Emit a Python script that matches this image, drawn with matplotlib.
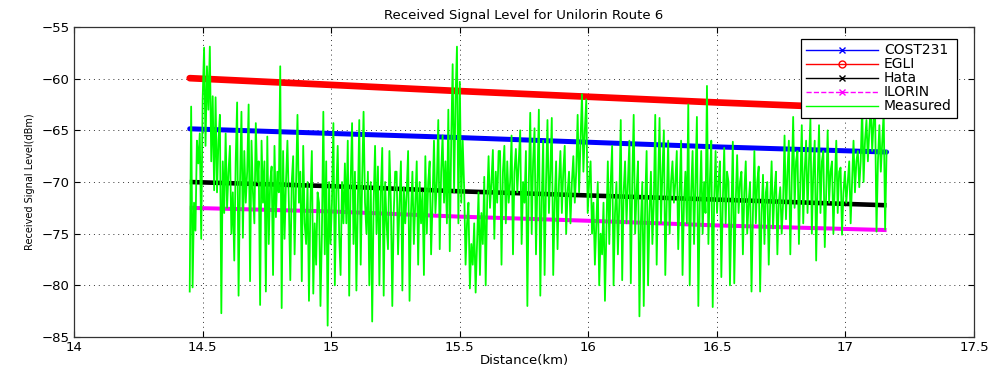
import numpy as np
import matplotlib
matplotlib.use("Agg")
import matplotlib.pyplot as plt
from matplotlib.lines import Line2D

# -----------------------------
# DATA
# -----------------------------

# model curves, read at a few distances (km)
model_km = [14.45, 15.0, 15.5, 16.0, 16.5, 17.16]
egli = [-59.95, -60.6, -61.2, -61.75, -62.3, -62.95]
cost231 = [-64.85, -65.3, -65.7, -66.15, -66.6, -67.1]
hata = [-70.0, -70.4, -70.9, -71.3, -71.7, -72.25]
ilorin = [-72.5, -72.85, -73.35, -73.75, -74.2, -74.65]

# measured level, 18 readings per 0.1 km from 14.45 km to 17.15 km
measured = [
    -80.6, -62.7, -80.2, -72.0, -74.7, -66.0, -68.2, -65.3, -75.5, -62.0, -57.0, -66.5, -58.8, -63.0, -56.9, -68.0, -61.7, -70.8,
    -61.8, -71.0, -66.0, -63.5, -82.7, -68.0, -73.0, -65.3, -72.5, -69.0, -66.5, -75.0, -71.0, -77.6, -68.0, -62.3, -81.0, -70.0,
    -63.2, -75.4, -67.0, -72.0, -69.0, -62.5, -79.6, -66.0, -71.0, -74.0, -64.3, -70.0, -68.0, -81.9, -66.0, -72.0, -68.0, -80.6,
    -65.6, -76.0, -70.0, -68.5, -79.0, -66.5, -73.4, -69.0, -71.0, -58.8, -82.2, -67.0, -75.5, -70.0, -66.0, -72.0, -79.5, -70.0,
    -67.5, -77.0, -70.0, -63.5, -72.0, -69.0, -79.6, -66.5, -74.0, -76.0, -70.0, -81.5, -72.0, -67.0, -80.8, -74.0, -78.0, -71.0,
    -72.0, -82.0, -75.0, -63.2, -77.0, -68.0, -83.9, -70.0, -76.0, -72.0, -64.3, -80.0, -71.0, -66.5, -75.0, -79.0, -70.0, -74.0,
    -68.2, -74.0, -66.0, -81.0, -70.0, -64.3, -76.0, -69.0, -80.5, -72.0, -64.0, -78.0, -70.0, -63.2, -72.0, -75.0, -69.0, -80.0,
    -70.0, -83.5, -72.0, -66.5, -75.0, -68.5, -80.0, -71.0, -66.7, -81.0, -70.0, -74.0, -76.5, -67.0, -72.0, -82.0, -73.0, -69.0,
    -69.0, -77.0, -72.0, -68.0, -80.5, -70.5, -74.0, -71.0, -67.0, -81.5, -73.0, -69.0, -76.0, -72.0, -68.0, -78.0, -70.0, -74.0,
    -71.0, -79.0, -67.5, -75.0, -70.0, -68.0, -77.0, -72.0, -66.0, -73.0, -70.0, -64.0, -76.5, -69.0, -65.5, -72.0, -68.0, -74.0,
    -63.0, -76.7, -66.0, -58.6, -71.0, -62.0, -56.9, -74.0, -60.3, -72.0, -66.0, -70.5, -78.0, -74.0, -72.0, -80.3, -76.0, -78.0,
    -74.0, -80.7, -76.0, -71.0, -79.0, -73.0, -76.0, -69.5, -80.0, -72.0, -67.5, -72.5, -70.0, -66.9, -75.5, -69.0, -72.0, -67.0,
    -67.0, -78.0, -69.0, -66.5, -74.0, -68.0, -72.0, -70.0, -65.5, -77.0, -69.0, -66.8, -71.0, -68.0, -65.0, -76.0, -70.0, -72.0,
    -67.0, -82.0, -70.0, -63.3, -75.0, -68.0, -64.8, -77.0, -70.0, -63.0, -81.0, -72.0, -66.0, -79.0, -70.0, -64.0, -73.0, -69.0,
    -63.8, -79.0, -72.0, -68.0, -76.5, -70.0, -67.0, -73.0, -69.0, -66.5, -75.0, -71.0, -69.0, -74.0, -70.0, -67.5, -72.0, -69.0,
    -63.5, -71.0, -66.0, -61.5, -69.0, -65.0, -62.0, -73.0, -70.0, -68.0, -75.0, -72.0, -78.0, -74.0, -70.0, -80.0, -75.0, -77.0,
    -72.0, -81.5, -75.0, -68.0, -76.0, -70.0, -66.5, -80.0, -73.0, -70.0, -77.0, -72.0, -64.0, -79.5, -71.0, -68.0, -74.0, -70.0,
    -66.0, -79.8, -70.0, -63.5, -75.0, -71.0, -68.0, -83.0, -74.0, -70.0, -82.0, -72.0, -67.0, -80.0, -73.0, -69.0, -76.0, -72.0,
    -63.5, -78.0, -70.0, -63.8, -74.0, -69.0, -65.0, -79.0, -72.0, -66.0, -75.0, -70.0, -68.0, -72.0, -70.0, -67.0, -76.5, -71.0,
    -66.0, -79.0, -72.0, -69.0, -74.0, -62.5, -80.0, -71.0, -67.0, -76.0, -70.0, -63.7, -82.0, -72.0, -67.0, -75.0, -70.0, -73.0,
    -60.7, -76.0, -70.0, -66.0, -82.1, -72.0, -67.0, -73.0, -70.0, -68.0, -79.2, -72.0, -66.7, -74.0, -69.0, -70.0, -80.0, -73.0,
    -66.1, -79.8, -72.0, -67.4, -73.0, -70.0, -69.0, -77.0, -71.0, -68.0, -75.0, -72.0, -70.0, -80.6, -73.0, -67.0, -74.0, -70.0,
    -68.5, -80.6, -73.0, -69.3, -76.0, -71.0, -70.0, -78.0, -72.0, -68.0, -74.5, -71.0, -69.0, -77.0, -72.0, -70.5, -75.0, -72.0,
    -65.5, -73.6, -69.0, -66.0, -77.0, -70.0, -63.7, -72.5, -68.0, -67.0, -76.0, -70.0, -64.5, -74.0, -69.0, -66.0, -73.0, -68.0,
    -63.9, -75.0, -69.0, -66.0, -77.6, -70.0, -64.5, -73.0, -68.0, -67.0, -76.3, -71.0, -65.0, -72.0, -69.0, -68.0, -75.0, -70.0,
    -66.0, -73.0, -69.0, -68.6, -75.1, -71.0, -69.0, -72.0, -70.0, -68.0, -74.0, -70.0, -66.0, -71.0, -68.0, -67.0, -70.5, -68.0,
    -62.6, -70.0, -66.0, -64.0, -68.0, -65.0, -62.6, -67.0, -64.0, -63.0, -74.8, -68.0, -64.5, -69.0, -66.0, -63.2, -74.6, -67.0,
]
measured_km = np.linspace(14.45, 17.16, len(measured))

x_ticks = [14, 14.5, 15, 15.5, 16, 16.5, 17, 17.5]
x_labels = ["14", "14.5", "15", "15.5", "16", "16.5", "17", "17.5"]
y_ticks = [-85, -80, -75, -70, -65, -60, -55]

# -----------------------------
# PLOT
# -----------------------------

fig = plt.figure(figsize=(9.96, 3.68), dpi=100)
ax = fig.add_axes([0.0743, 0.0842, 0.9036, 0.8424])

ax.plot(model_km, cost231, color="#0000ff", lw=3.6, solid_capstyle="round", zorder=3)
ax.plot(model_km, egli, color="#ff0000", lw=4.8, solid_capstyle="round", zorder=3)
ax.plot(model_km, hata, color="#000000", lw=3.3, solid_capstyle="butt", zorder=3)
ax.plot(model_km, ilorin, color="#ff00ff", lw=2.9, solid_capstyle="butt", zorder=3)
ax.plot(measured_km, measured, color="#00ff00", lw=1.3, zorder=4)

ax.set_xlim(14, 17.5)
ax.set_ylim(-85, -55)
ax.set_xticks(x_ticks)
ax.set_xticklabels(x_labels)
ax.set_yticks(y_ticks)
ax.grid(True, color="k", linestyle=(0, (1, 4)), linewidth=0.7, alpha=0.8)
ax.tick_params(direction="in", top=True, right=True, length=4, labelsize=9.5, pad=3)
for s in ax.spines.values():
    s.set_color("#333333")
    s.set_linewidth(0.9)

ax.set_title("Received Signal Level for Unilorin Route 6", fontsize=9.5, pad=6)
ax.set_xlabel("Distance(km)", fontsize=9.5, labelpad=0)
ax.set_ylabel("Received Signal Level(dBm)", fontsize=7, labelpad=5)

handles = [
    Line2D([], [], color="#0000ff", marker="x", markersize=4, lw=1),
    Line2D([], [], color="#ff0000", marker="o", markersize=5, mfc="none", lw=1),
    Line2D([], [], color="#000000", marker="x", markersize=4, lw=1),
    Line2D([], [], color="#ff00ff", marker="x", markersize=4, lw=1, ls="--"),
    Line2D([], [], color="#00ff00", lw=1),
]
leg = ax.legend(handles, ["COST231", "EGLI", "Hata", "ILORIN", "Measured"],
                loc="upper right", bbox_to_anchor=(0.9885, 0.985), fontsize=10,
                handlelength=5.2, handletextpad=0.4, labelspacing=0.0,
                borderpad=0.35, fancybox=False, framealpha=1, edgecolor="k")
leg.get_frame().set_linewidth(0.9)

fig.savefig("out.png", dpi=100)
